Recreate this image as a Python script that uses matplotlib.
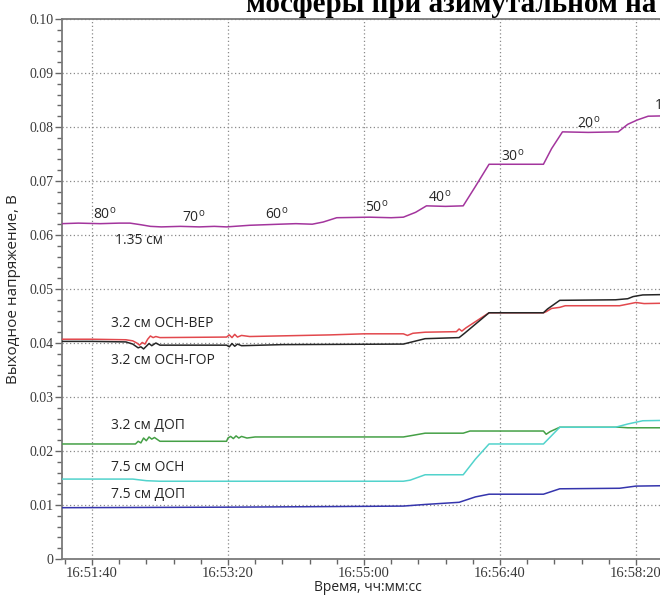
#!/usr/bin/env python3
"""
Выходное напряжение радиометров при азимутальном наведении антенны.
"""

import matplotlib
matplotlib.use('Agg')
import matplotlib.pyplot as plt
from matplotlib.ticker import MultipleLocator, FuncFormatter


def sec(hms):
    h, m, s = hms.split(':')
    return int(h) * 3600 + int(m) * 60 + int(s)


# 1.35 см
t_135 = ['16:51:18', '16:51:30', '16:51:46', '16:52:00', '16:52:08', '16:52:16',
         '16:52:23', '16:52:31', '16:52:45', '16:52:59', '16:53:10', '16:53:19',
         '16:53:36', '16:53:58', '16:54:10', '16:54:22', '16:54:30', '16:54:40',
         '16:55:04', '16:55:20', '16:55:29', '16:55:38', '16:55:46', '16:56:00',
         '16:56:13', '16:56:22', '16:56:32', '16:56:50', '16:57:12', '16:57:18',
         '16:57:26', '16:57:45', '16:58:07', '16:58:14', '16:58:21', '16:58:29',
         '16:58:48']
v_135 = [0.0621, 0.0622, 0.0621, 0.0622, 0.0622, 0.0619,
         0.0616, 0.0615, 0.0616, 0.0615, 0.0616, 0.0615,
         0.0618, 0.0620, 0.0621, 0.0620, 0.0624, 0.0632,
         0.0633, 0.0632, 0.0633, 0.0642, 0.0654, 0.0653,
         0.0654, 0.0690, 0.0731, 0.0731, 0.0731, 0.0760,
         0.0791, 0.0790, 0.0791, 0.0805, 0.0813, 0.0820,
         0.0821]

# 3.2 см ОСН-ВЕР
t_ver = ['16:51:18', '16:51:40', '16:52:05', '16:52:10', '16:52:13', '16:52:15',
         '16:52:17', '16:52:19', '16:52:21', '16:52:23', '16:52:25', '16:52:27',
         '16:52:30', '16:53:19', '16:53:21', '16:53:23', '16:53:25', '16:53:27',
         '16:53:30', '16:53:36', '16:54:35', '16:55:00', '16:55:29', '16:55:32',
         '16:55:36', '16:55:45', '16:56:08', '16:56:10', '16:56:12', '16:56:15',
         '16:56:32', '16:57:12', '16:57:14', '16:57:18', '16:57:24', '16:57:28',
         '16:58:08', '16:58:14', '16:58:20', '16:58:26', '16:58:48']
v_ver = [0.0407, 0.0407, 0.0406, 0.0404, 0.0400, 0.0396,
         0.0401, 0.0398, 0.0407, 0.0413, 0.0410, 0.0412,
         0.0410, 0.0411, 0.0415, 0.0410, 0.0416, 0.0411,
         0.0414, 0.0412, 0.0415, 0.0417, 0.0417, 0.0414,
         0.0418, 0.0420, 0.0421, 0.0426, 0.0422, 0.0428,
         0.0456, 0.0456, 0.0458, 0.0464, 0.0466, 0.0469,
         0.0469, 0.0472, 0.0475, 0.0473, 0.0474]

# 3.2 см ОСН-ГОР
t_gor = ['16:51:18', '16:51:40', '16:52:05', '16:52:10', '16:52:14', '16:52:16',
         '16:52:18', '16:52:20', '16:52:22', '16:52:24', '16:52:27', '16:52:30',
         '16:53:19', '16:53:21', '16:53:23', '16:53:25', '16:53:27', '16:53:30',
         '16:54:00', '16:55:29', '16:55:37', '16:55:45', '16:56:10', '16:56:14',
         '16:56:32', '16:57:12', '16:57:15', '16:57:24', '16:58:05', '16:58:14',
         '16:58:18', '16:58:25', '16:58:48']
v_gor = [0.0403, 0.0403, 0.0402, 0.0398, 0.0391, 0.0393,
         0.0389, 0.0394, 0.0399, 0.0395, 0.0400, 0.0396,
         0.0396, 0.0393, 0.0399, 0.0394, 0.0398, 0.0395,
         0.0397, 0.0398, 0.0403, 0.0408, 0.0410, 0.0418,
         0.0456, 0.0456, 0.0463, 0.0479, 0.0480, 0.0482,
         0.0486, 0.0489, 0.0490]

# 3.2 см ДОП
t_dop32 = ['16:51:18', '16:52:12', '16:52:14', '16:52:16', '16:52:18', '16:52:20',
           '16:52:22', '16:52:24', '16:52:26', '16:52:30', '16:53:19', '16:53:20',
           '16:53:22', '16:53:24', '16:53:26', '16:53:28', '16:53:30', '16:53:34',
           '16:53:40', '16:55:29', '16:55:36', '16:55:45', '16:56:13', '16:56:18',
           '16:57:12', '16:57:14', '16:57:17', '16:57:24', '16:58:08', '16:58:14',
           '16:58:48']
v_dop32 = [0.0213, 0.0213, 0.0218, 0.0215, 0.0224, 0.0219,
           0.0226, 0.0222, 0.0225, 0.0218, 0.0218, 0.0224,
           0.0227, 0.0223, 0.0228, 0.0224, 0.0227, 0.0224,
           0.0226, 0.0226, 0.0229, 0.0233, 0.0233, 0.0237,
           0.0237, 0.0231, 0.0236, 0.0244, 0.0244, 0.0243,
           0.0243]

# 7.5 см ОСН
t_osn75 = ['16:51:18', '16:52:10', '16:52:20', '16:52:30', '16:55:29', '16:55:34',
           '16:55:45', '16:56:13', '16:56:22', '16:56:32', '16:57:12', '16:57:24',
           '16:58:05', '16:58:14', '16:58:25', '16:58:48']
v_osn75 = [0.0148, 0.0148, 0.0145, 0.0144, 0.0144, 0.0146,
           0.0156, 0.0156, 0.0185, 0.0213, 0.0213, 0.0244,
           0.0244, 0.0250, 0.0256, 0.0257]

# 7.5 см ДОП
t_dop75 = ['16:51:18', '16:53:20', '16:54:30', '16:55:29', '16:55:45', '16:56:10',
           '16:56:22', '16:56:32', '16:57:12', '16:57:24', '16:58:08', '16:58:20',
           '16:58:48']
v_dop75 = [0.0095, 0.0096, 0.0097, 0.0098, 0.0101, 0.0105,
           0.0115, 0.0120, 0.0120, 0.0130, 0.0131, 0.0135,
           0.0136]

angles = ['80', '70', '60', '50', '40', '30', '20', '10']
series_names = ['1.35 см', '3.2 см ОСН-ВЕР', '3.2 см ОСН-ГОР', '3.2 см ДОП',
                '7.5 см ОСН', '7.5 см ДОП']

sans = ['Open Sans', 'DejaVu Sans']
serif = ['Liberation Serif', 'DejaVu Serif']
txt_color = '#262626'

fig = plt.figure(figsize=(6.6, 5.96), dpi=100)
ax = fig.add_axes([62 / 660, 1 - 559 / 596, 612 / 660, 540 / 596])

lines = [
    (t_135, v_135, '#a3359d'),
    (t_ver, v_ver, '#e2484d'),
    (t_gor, v_gor, '#262626'),
    (t_dop32, v_dop32, '#45a046'),
    (t_osn75, v_osn75, '#52d3cc'),
    (t_dop75, v_dop75, '#3535ad'),
]
for tt, vv, c in lines:
    ax.plot([sec(t) for t in tt], vv, color=c, lw=1.1, zorder=3)

# подписи углов и каналов
angle_pos = [('16:51:41', 0.0637), ('16:52:46', 0.0633), ('16:53:47', 0.0637),
             ('16:55:01', 0.0650), ('16:55:47', 0.0670), ('16:56:41', 0.0746),
             ('16:57:37', 0.0807), ('16:58:33', 0.0839)]
for a, (t, y) in zip(angles, angle_pos):
    ax.text(sec(t), y, a + r'$^{\mathregular{o}}$', family=sans, fontsize=10,
            color=txt_color, ha='left', va='center', zorder=4)

name_pos = [('16:51:57', 0.0589), ('16:51:54', 0.0437), ('16:51:54', 0.0367),
            ('16:51:54', 0.0248), ('16:51:54', 0.0169), ('16:51:54', 0.0119)]
for n, (t, y) in zip(series_names, name_pos):
    ax.text(sec(t), y, n, family=sans, fontsize=10, color=txt_color,
            ha='left', va='center', zorder=4)

ax.set_xlim(sec('16:51:18'), sec('16:58:48'))
ax.set_ylim(0, 0.10)

ax.xaxis.set_major_locator(MultipleLocator(100))
ax.xaxis.set_minor_locator(MultipleLocator(20))
ax.yaxis.set_major_locator(MultipleLocator(0.01))
ax.yaxis.set_minor_locator(MultipleLocator(0.002))


def fmt_time(x, pos):
    x = int(round(x))
    return f'{x // 3600}:{(x % 3600) // 60:02d}:{x % 60:02d}'


ax.xaxis.set_major_formatter(FuncFormatter(fmt_time))
ax.yaxis.set_major_formatter(FuncFormatter(lambda v, p: '0' if abs(v) < 1e-9 else f'{v:.2f}'))

for lab in ax.get_xticklabels() + ax.get_yticklabels():
    lab.set_family(serif)
    lab.set_color('#3a3a3a')
ax.tick_params(axis='x', which='major', labelsize=10.5, length=4, width=1, color='#666666', pad=2)
ax.tick_params(axis='y', which='major', labelsize=10, length=5, width=1, color='#666666', pad=1)
ax.tick_params(which='minor', length=3.5, width=1, color='#666666')

ax.grid(True, which='major', color='#8a8a8a', lw=0.9, linestyle=(0, (1, 2)))
for s in ax.spines.values():
    s.set_color('#7a7a7a')
    s.set_linewidth(1.3)

ax.set_ylabel('Выходное напряжение, В', family=sans, fontsize=11, color=txt_color, labelpad=6)
ax.set_xlabel('Время, чч:мм:сс', family=sans, fontsize=10, color=txt_color, labelpad=0)

fig.text(246 / 660, 1 - 12 / 596, 'мосферы при азимутальном на', family=serif,
         fontweight='bold', fontsize=21, color='black', ha='left', va='baseline')

fig.savefig('out.png', dpi=100)
